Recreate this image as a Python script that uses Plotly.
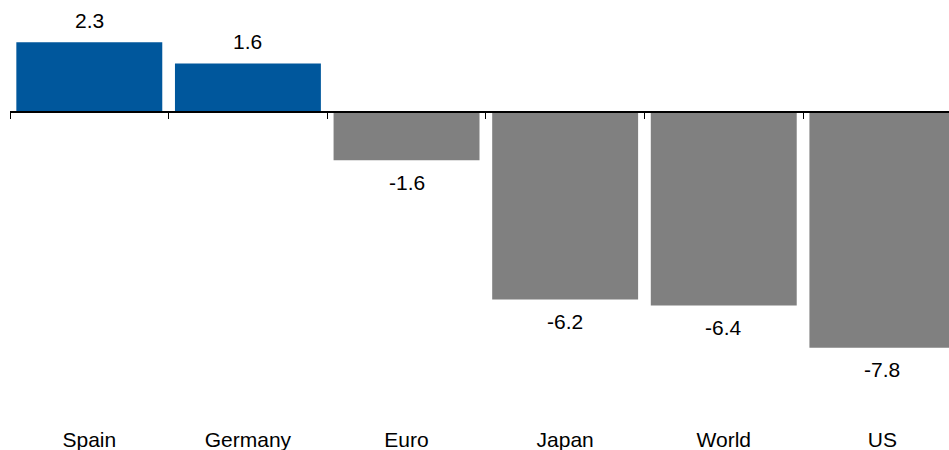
import plotly.graph_objects as go

# data
categories = ["Spain", "Germany", "Euro", "Japan", "World", "US"]
values = [2.3, 1.6, -1.6, -6.2, -6.4, -7.8]

COLOR_POS = "#00579C"
COLOR_NEG = "#808080"
FONT = "Liberation Sans, Arial, sans-serif"

colors = [COLOR_POS if v >= 0 else COLOR_NEG for v in values]

x_range = [-0.5, 5.42]
y_range = [-10.35, 3.7]
zero_pos = (0 - y_range[0]) / (y_range[1] - y_range[0])

fig = go.Figure()
fig.add_trace(go.Bar(
    x=categories, y=values,
    marker_color=colors, marker_line_width=0,
    showlegend=False, hoverinfo="x+y",
))
# invisible helper so the zero-line axis gets the categories
fig.add_trace(go.Scatter(
    x=categories, y=[0] * len(categories), mode="none",
    xaxis="x2", showlegend=False, hoverinfo="skip",
))

# value labels, above positive bars and below negative ones
for c, v in zip(categories, values):
    fig.add_annotation(
        x=c, y=v, text=f"{v:.1f}", showarrow=False,
        yanchor="middle", yshift=22 if v >= 0 else -22,
        font=dict(size=21, color="black", family=FONT),
    )

fig.update_layout(
    width=949, height=450,
    margin=dict(l=10, r=0, t=0, b=25),
    plot_bgcolor="white", paper_bgcolor="white",
    bargap=0.08,
    font=dict(family=FONT, size=21, color="black"),
    xaxis=dict(
        type="category", range=x_range,
        showline=False, showgrid=False, zeroline=False, ticks="",
        tickfont=dict(size=21, color="black"),
    ),
    xaxis2=dict(
        type="category", range=x_range, overlaying="x",
        anchor="free", position=zero_pos,
        showline=True, linecolor="black", linewidth=1.6,
        ticks="outside", tickson="boundaries", ticklen=6,
        tickcolor="black", tickwidth=1,
        showticklabels=False, showgrid=False, zeroline=False,
    ),
    yaxis=dict(
        range=y_range, visible=False, showgrid=False, zeroline=False,
    ),
)

# drop the default page margin so the figure fills the window
fig.write_html(
    "out.html",
    config={"displayModeBar": False},
    post_script="document.body.style.margin='0';",
)
